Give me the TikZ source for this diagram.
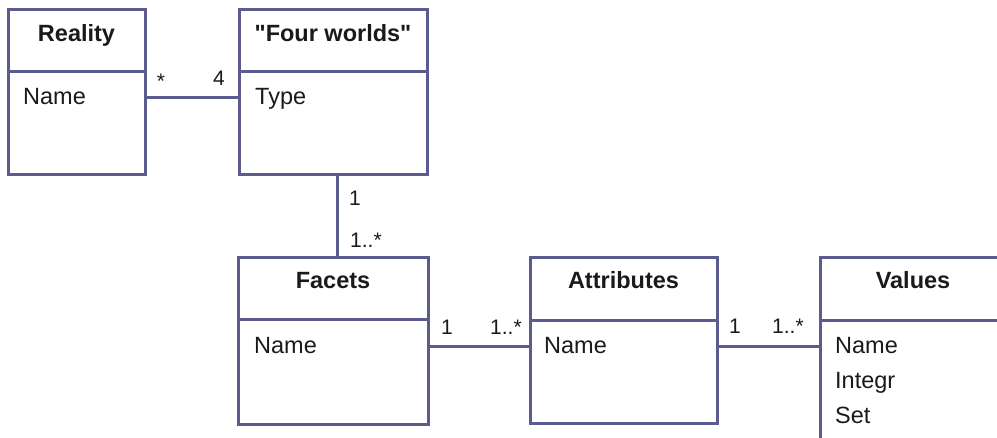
\documentclass[tikz,border=0pt]{standalone}
\usepackage{fontspec}
\setmainfont{Liberation Sans}
\definecolor{lc}{HTML}{5B5B8F}
\definecolor{tc}{HTML}{1A1A1A}
\newcommand{\stq}{\XeTeXglyph\XeTeXcharglyph"0022\relax}
\begin{document}
\begin{tikzpicture}[x=1pt,y=-1pt,
  umlbox/.style={draw=lc, line width=3pt, rectangle, inner sep=0pt, fill=white},
  sep/.style={draw=lc, line width=3pt},
  conn/.style={draw=lc, line width=3pt},
  ttl/.style={anchor=base, text=tc, font=\fontsize{23.5}{27}\selectfont\bfseries, inner sep=0pt},
  attr/.style={anchor=base west, text=tc, font=\fontsize{23.5}{27}\selectfont, inner sep=0pt},
  mult/.style={anchor=base, text=tc, font=\fontsize{21}{25}\selectfont, inner sep=0pt},
  multw/.style={anchor=base west, text=tc, font=\fontsize{21}{25}\selectfont, inner sep=0pt}]
\useasboundingbox[fill=white] (0,0) rectangle (997,438);
\begin{scope}
\clip (0,0) rectangle (997,438);
% boxes
\node[umlbox, minimum width=137pt, minimum height=165pt] (reality) at (76.5,92.5) {};
\node[umlbox, minimum width=188pt, minimum height=165pt] (four) at (333,92.5) {};
\node[umlbox, minimum width=190pt, minimum height=167pt] (facets) at (333,341.5) {};
\node[umlbox, minimum width=187pt, minimum height=166pt] (attrs) at (623.5,341) {};
\node[umlbox, minimum width=186pt, minimum height=212pt] (values) at (913,364) {};
% separators
\coordinate (s1) at (0,72);
\coordinate (s2) at (0,320);
\coordinate (s3) at (0,321);
\draw[sep] (reality.west |- s1) -- (reality.east |- s1);
\draw[sep] (four.west |- s1) -- (four.east |- s1);
\draw[sep] (facets.west |- s2) -- (facets.east |- s2);
\draw[sep] (attrs.west |- s3) -- (attrs.east |- s3);
\draw[sep] (values.west |- s3) -- (values.east |- s3);
% titles
\node[ttl] (t1) at (76.5,42) {Reality};
\node[ttl] (t2) at (333,42) {\stq Four worlds\stq};
\node[ttl] (t3) at (333,289) {Facets};
\node[ttl] (t4) at (623.5,289) {Attributes};
\node[ttl] (t5) at (913,289) {Values};
% attributes
\node[attr] (a1) at (23,105) {Name};
\node[attr] (a2) at (255,105) {Type};
\node[attr] (a3) at (254,354) {Name};
\node[attr] (a4) at (544,354) {Name};
\node[attr] (a5) at (835,354) {Name};
\node[attr] (a6) at (835,389) {Integr};
\node[attr] (a7) at (835,424) {Set};
% connectors
\coordinate (h1) at (0,98);
\coordinate (h2) at (0,347);
\coordinate (vx) at (337,0);
\draw[conn] (reality.east |- h1) -- (four.west |- h1);
\draw[conn] (four.south -| vx) -- (facets.north -| vx);
\draw[conn] (facets.east |- h2) -- (attrs.west |- h2);
\draw[conn] (attrs.east |- h2) -- (values.west |- h2);
% multiplicities
\node[mult] (m1) at (161,89) {*};
\node[mult] (m2) at (219,86) {4};
\node[mult] (m3) at (355,206) {1};
\node[multw] (m4) at (350,248) {1..*};
\node[mult] (m5) at (447,335) {1};
\node[multw] (m6) at (490,335) {1..*};
\node[mult] (m7) at (735,334) {1};
\node[multw] (m8) at (772,334) {1..*};
\end{scope}
\end{tikzpicture}
\end{document}
